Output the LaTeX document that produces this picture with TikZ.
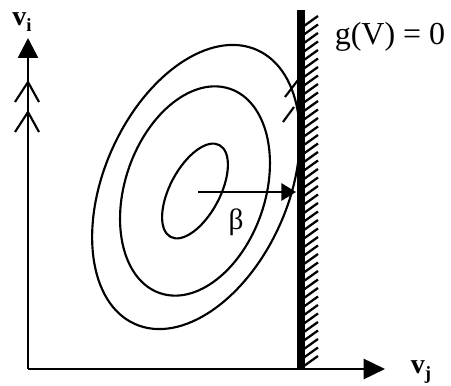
\documentclass[tikz,border=0pt]{standalone}
\usepackage{fontspec}
\setmainfont{Liberation Serif}
\usetikzlibrary{arrows.meta, positioning, calc}
\tikzset{
  axis/.style    = {line width=2pt, -{Triangle[length=15pt, width=15pt]}},
  chevron/.style = {line width=1.6pt},
  contour/.style = {line width=1.6pt},
  wall/.style    = {line width=6pt},
  hatch/.style   = {line width=1.7pt},
  design/.style  = {line width=1.6pt, -{Triangle[length=11pt, width=13pt]}},
  lbl/.style     = {inner sep=0pt},
}
\newcommand{\axlabel}[1]{\fontsize{21}{21}\selectfont\bfseries v\raisebox{-5pt}{\fontsize{14}{14}\selectfont #1}}

\begin{document}
\begin{tikzpicture}[x=0.75pt, y=0.75pt]
    \useasboundingbox (0,0) rectangle (451,386);

    % --- axes ---
    \coordinate (O) at (28,17);
    \coordinate (Yend) at (28,348);
    \coordinate (Xend) at (385,17);
    \draw[axis] (O) -- (Yend);
    \draw[axis, -{Triangle[length=16pt, width=15pt]}] (O) -- (Xend);
    \node[lbl] (vi) at (22,364) {\axlabel{i}};
    \node[lbl] (vj) at (421,14) {\axlabel{j}};

    % --- double chevrons on the vertical axis ---
    \foreach \y in {304,274}
      \draw[chevron] (15,\y-20) -- (28,\y) -- (39,\y-20);

    % --- contours ---
    \coordinate (C) at (195,195);
    \draw[contour, rotate around={62:(C)}] (C) ellipse [x radius=52, y radius=25];
    \draw[contour, rotate around={71:(C)}] (C) ellipse [x radius=108, y radius=70];
    \draw[contour, rotate around={66:(196,199)}] (196,199) ellipse [x radius=150, y radius=92];
    \draw[contour] (285,289) -- (298,306);
    \draw[contour] (283,264) -- (294,279);

    % --- limit state wall ---
    \coordinate (Wbot) at (301,17);
    \coordinate (Wtop) at (301,376);
    \draw[wall] (Wbot) -- (Wtop);
    \foreach \y in {20,28.5,...,366}
      \draw[hatch] (304,\y) -- (318,\y+10);
    \node[lbl] (g) at (390,349) {\fontsize{24}{28}\selectfont g(V) = 0};

    % --- reliability index ---
    \coordinate (P) at (296,194);
    \draw[design] ($(C)+(3,-1)$) -- (P);
    \node[lbl] (beta) at (236,164) {\fontsize{22}{22}\selectfont β};
\end{tikzpicture}
\end{document}
